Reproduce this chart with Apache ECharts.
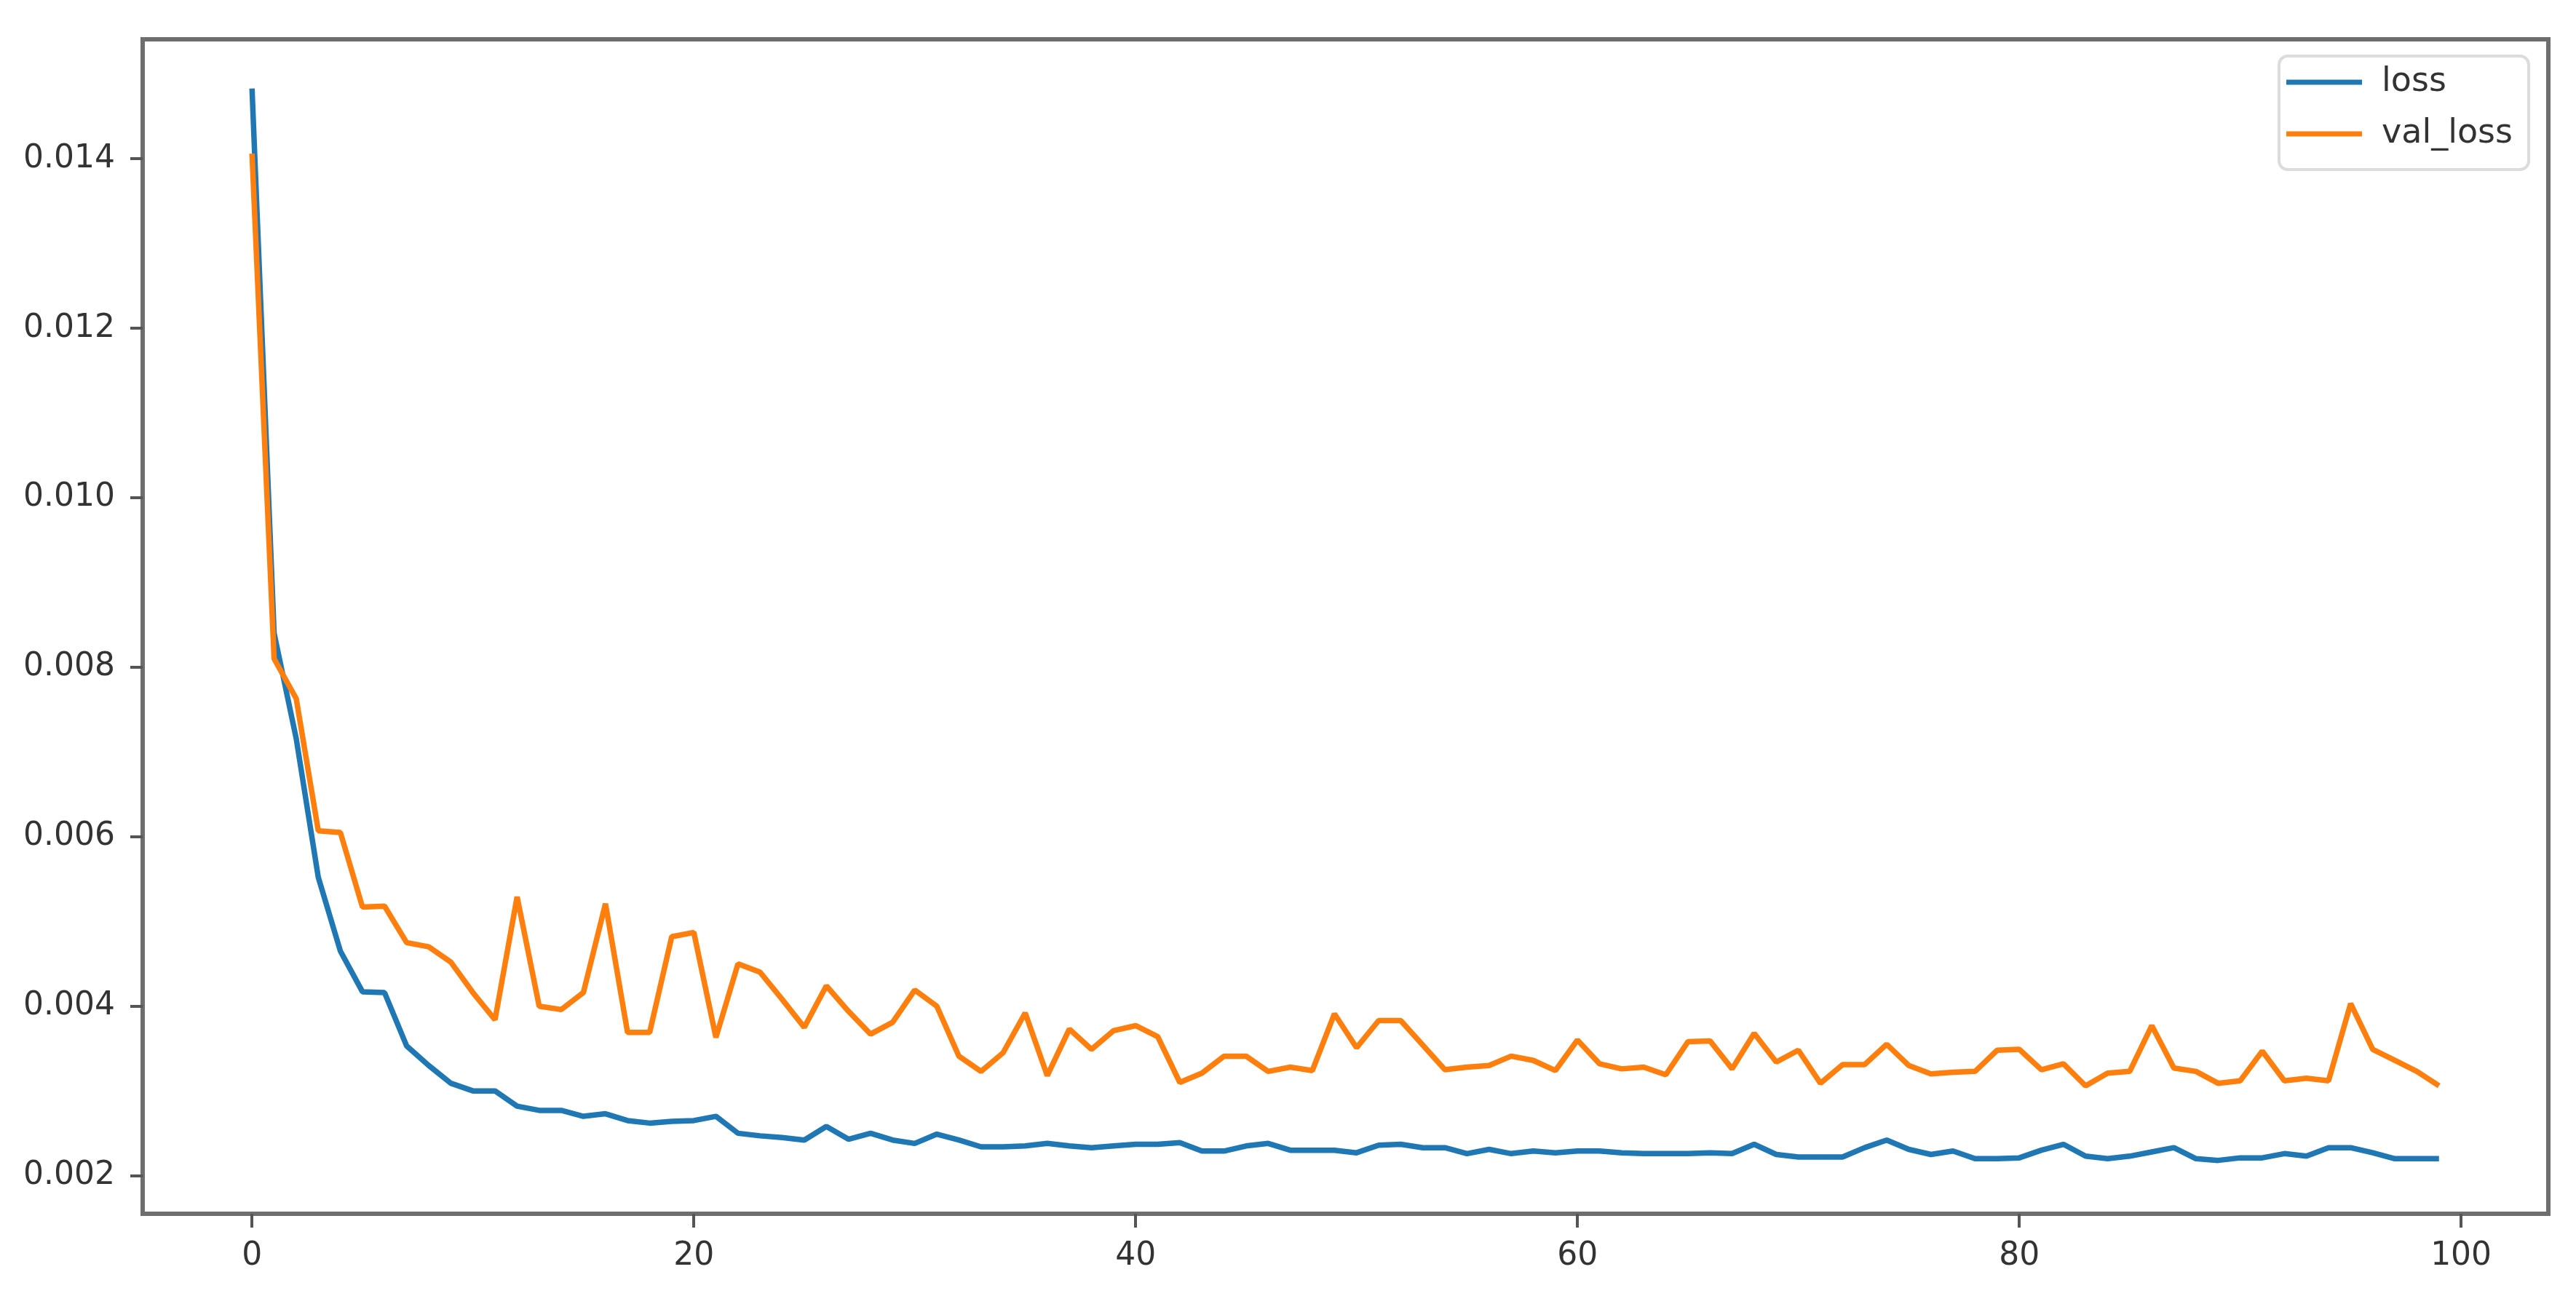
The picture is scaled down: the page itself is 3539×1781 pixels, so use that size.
<!DOCTYPE html>
<html>
<head>
<meta charset="utf-8">
<script src="https://cdn.jsdelivr.net/npm/echarts@6/dist/echarts.min.js"></script>
<style>
html,body{margin:0;padding:0;background:#fff;}
#chart{width:3539px;height:1781px;}
</style>
</head>
<body>
<div id="chart"></div>
<script>
const seriesNames = ['loss', 'val_loss'];
const xTicks = [0, 20, 40, 60, 80, 100];
const yTicks = [0.002, 0.004, 0.006, 0.008, 0.010, 0.012, 0.014];

const loss = [
  0.01483, 0.0084, 0.00716, 0.00552, 0.00465, 0.00417, 0.00416, 0.00353, 0.0033, 0.00309,
  0.003, 0.003, 0.00282, 0.00277, 0.00277, 0.0027, 0.00273, 0.00265, 0.00262, 0.00264,
  0.00265, 0.0027, 0.0025, 0.00247, 0.00245, 0.00242, 0.00258, 0.00243, 0.0025, 0.00242,
  0.00238, 0.00249, 0.00242, 0.00234, 0.00234, 0.00235, 0.00238, 0.00235, 0.00233, 0.00235,
  0.00237, 0.00237, 0.00239, 0.00229, 0.00229, 0.00235, 0.00238, 0.0023, 0.0023, 0.0023,
  0.00227, 0.00236, 0.00237, 0.00233, 0.00233, 0.00226, 0.00231, 0.00226, 0.00229, 0.00227,
  0.00229, 0.00229, 0.00227, 0.00226, 0.00226, 0.00226, 0.00227, 0.00226, 0.00237, 0.00225,
  0.00222, 0.00222, 0.00222, 0.00233, 0.00242, 0.00231, 0.00225, 0.00229, 0.0022, 0.0022,
  0.00221, 0.0023, 0.00237, 0.00223, 0.0022, 0.00223, 0.00228, 0.00233, 0.0022, 0.00218,
  0.00221, 0.00221, 0.00226, 0.00223, 0.00233, 0.00233, 0.00227, 0.0022, 0.0022, 0.0022
];

const valLoss = [
  0.01406, 0.0081, 0.00763, 0.00607, 0.00605, 0.00517, 0.00518, 0.00475, 0.0047, 0.00452,
  0.00416, 0.00384, 0.00529, 0.004, 0.00396, 0.00416, 0.00521, 0.00369, 0.00369, 0.00482,
  0.00487, 0.00363, 0.0045, 0.0044, 0.00408, 0.00375, 0.00424, 0.00394, 0.00367, 0.00381,
  0.00419, 0.004, 0.00341, 0.00323, 0.00345, 0.00392, 0.00318, 0.00373, 0.00349, 0.00371,
  0.00377, 0.00364, 0.0031, 0.00321, 0.00341, 0.00341, 0.00323, 0.00328, 0.00324, 0.00391,
  0.00351, 0.00383, 0.00383, 0.00354, 0.00325, 0.00328, 0.0033, 0.00341, 0.00336, 0.00324,
  0.0036, 0.00332, 0.00326, 0.00328, 0.00319, 0.00358, 0.00359, 0.00326, 0.00368, 0.00334,
  0.00348, 0.00309, 0.00331, 0.00331, 0.00355, 0.0033, 0.0032, 0.00322, 0.00323, 0.00348,
  0.00349, 0.00325, 0.00332, 0.00306, 0.00321, 0.00323, 0.00377, 0.00327, 0.00323, 0.00309,
  0.00312, 0.00347, 0.00312, 0.00315, 0.00312, 0.00403, 0.00349, 0.00336, 0.00323, 0.00306
];

const epochs = loss.map((_, i) => i);
const toPairs = arr => arr.map((v, i) => [epochs[i], v]);

const FONT = 'DejaVu Sans';
const chart = echarts.init(document.getElementById('chart'), null, {renderer: 'canvas'});
chart.setOption({
  animation: false,
  backgroundColor: '#ffffff',
  grid: {
    left: 196, right: 38, top: 54, bottom: 113,
    show: true, borderColor: '#6e6e6e', borderWidth: 6, backgroundColor: 'transparent'
  },
  legend: {
    data: seriesNames,
    orient: 'vertical',
    left: 3131, top: 77,
    padding: [13, 22, 26, 10],
    itemGap: 25,
    itemWidth: 104,
    itemHeight: 7,
    icon: 'rect',
    backgroundColor: '#fff',
    borderColor: '#dcdcdc',
    borderWidth: 4,
    borderRadius: 12,
    textStyle: {fontFamily: FONT, fontSize: 46, color: '#333', lineHeight: 45, padding: [0, 0, 0, 22]}
  },
  xAxis: {
    type: 'value',
    min: -4.95, max: 103.95,
    axisLine: {show: false, onZero: false},
    splitLine: {show: false},
    axisTick: {show: true, customValues: xTicks, length: 19, lineStyle: {color: '#555', width: 4}},
    axisLabel: {show: true, customValues: xTicks, margin: 37, fontFamily: FONT, fontSize: 44, color: '#333'}
  },
  yAxis: {
    type: 'value',
    min: 0.00155, max: 0.01541,
    axisLine: {show: false, onZero: false},
    splitLine: {show: false},
    axisTick: {show: true, customValues: yTicks, length: 17, lineStyle: {color: '#555', width: 4}},
    axisLabel: {show: true, customValues: yTicks, margin: 38, fontFamily: FONT, fontSize: 44, color: '#333',
      formatter: v => v.toFixed(3)}
  },
  series: [
    {name: seriesNames[0], type: 'line', data: toPairs(loss), showSymbol: false, symbol: 'none',
      lineStyle: {color: '#1f77b4', width: 7.5}, itemStyle: {color: '#1f77b4'}},
    {name: seriesNames[1], type: 'line', data: toPairs(valLoss), showSymbol: false, symbol: 'none',
      lineStyle: {color: '#ff7f0e', width: 7.5}, itemStyle: {color: '#ff7f0e'}}
  ]
});
</script>
</body>
</html>
